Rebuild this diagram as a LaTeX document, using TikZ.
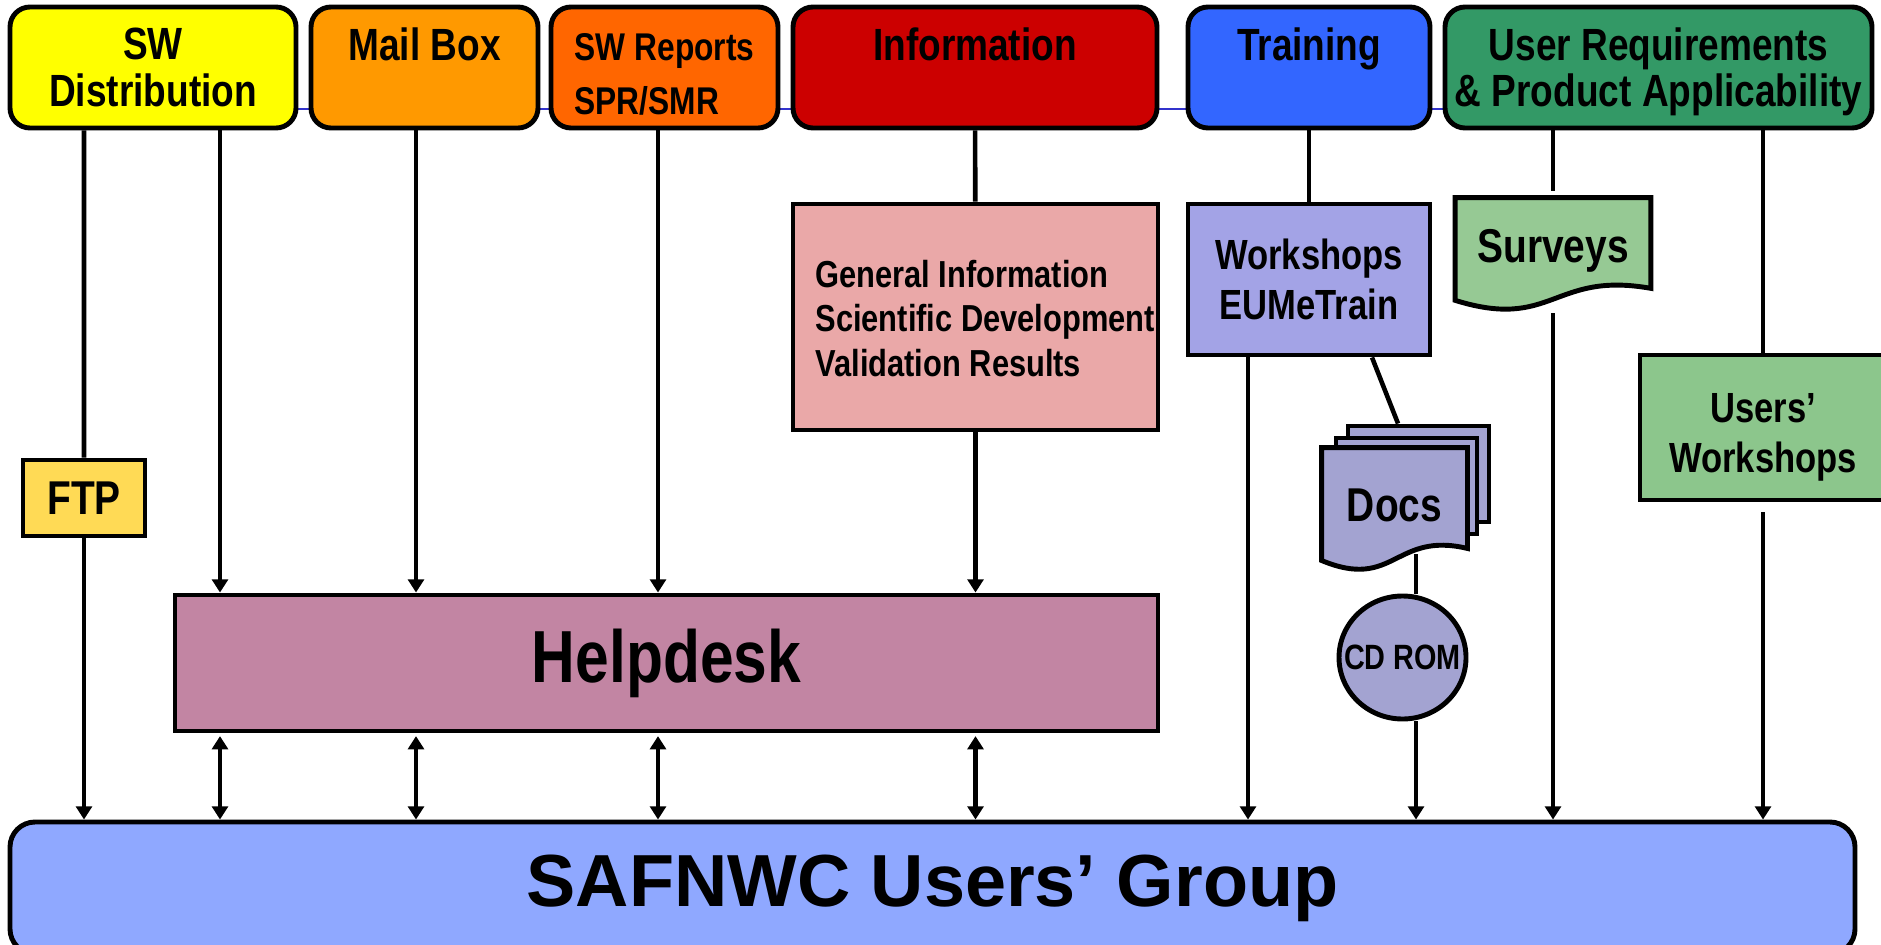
\documentclass[tikz,border=0pt]{standalone}
\usepackage{fontspec}
\setmainfont[FakeStretch=0.82]{Liberation Sans}
\newfontfamily\widefont{Liberation Sans}
\usetikzlibrary{arrows.meta,shapes.geometric,backgrounds,calc}

\definecolor{swyellow}{HTML}{FFFF00}
\definecolor{mailorange}{HTML}{FF9900}
\definecolor{reporange}{HTML}{FF6600}
\definecolor{infored}{HTML}{CC0000}
\definecolor{trainblue}{HTML}{3366FF}
\definecolor{reqgreen}{HTML}{339966}
\definecolor{genpink}{HTML}{EAA8A8}
\definecolor{wslilac}{HTML}{A3A3E6}
\definecolor{docslilac}{HTML}{A3A3D1}
\definecolor{survgreen}{HTML}{96C994}
\definecolor{uwsgreen}{HTML}{8CC68C}
\definecolor{ftpyellow}{HTML}{FFDA55}
\definecolor{helpmauve}{HTML}{C285A3}
\definecolor{ugblue}{HTML}{8FA8FF}
\definecolor{thinblue}{HTML}{3333CC}

\tikzset{
  tab/.style={draw, line width=2.8pt, rounded corners=0.4cm, minimum height=2.42cm,
    align=center, font=\bfseries\fontsize{25.7}{26.5}\selectfont},
  box/.style={draw, line width=2.8pt, align=center, font=\bfseries\fontsize{24}{28.4}\selectfont},
  page/.style={line width=2.8pt, minimum width=2.82cm, minimum height=1.92cm},
  link/.style={line width=2.6pt},
  arr/.style={link, -{Triangle[length=7.5pt,width=9pt]}},
  darr/.style={link, {Triangle[length=7.5pt,width=9pt]}-{Triangle[length=7.5pt,width=9pt]}},
}

% page with a wavy lower edge
\newcommand\docwave[2]{%
  \draw[#2] (#1.north west) -- (#1.north east) -- (#1.south east)
    .. controls ([yshift=0.35cm]$(#1.south west)!0.5!(#1.south east)$)
    and ([yshift=-0.85cm]$(#1.south west)!0.5!(#1.south east)$)
    .. ([yshift=-0.24cm]#1.south west) -- cycle;}

\begin{document}
\begin{tikzpicture}
  \useasboundingbox (0,0) rectangle (37.62,-18.88);

  \node[tab, fill=swyellow, minimum width=5.72cm] (swd) at (3.06,-1.35) {SW\\Distribution};
  \node[tab, fill=mailorange, minimum width=4.54cm] (mail) at (8.49,-1.35) {Mail Box\\\mbox{}};
  \node[tab, fill=reporange, minimum width=4.54cm, align=left, font=\bfseries\fontsize{22}{26}\selectfont]
    (rep) at (13.29,-1.35) {\rule{0pt}{23pt}SW Reports\\[5pt]SPR/SMR};
  \node[tab, fill=infored, minimum width=7.28cm] (info) at (19.50,-1.35) {Information\\\mbox{}};
  \node[tab, fill=trainblue, minimum width=4.84cm] (train) at (26.18,-1.35) {Training\\\mbox{}};
  \node[tab, fill=reqgreen, minimum width=8.54cm] (ureq) at (33.17,-1.35)
    {\rule{0pt}{23.6pt}User Requirements\\\& Product Applicability};

  \node[box, fill=genpink, minimum width=7.3cm, minimum height=4.52cm, inner xsep=0pt,
    font=\bfseries\fontsize{21.4}{25.5}\selectfont] (gen) at (19.51,-6.34)
    {\begin{tabular}{@{\hspace{11pt}}l@{}}\rule{0pt}{24.7pt}General Information\\Scientific Development\\Validation Results\end{tabular}};
  \node[box, fill=wslilac, minimum width=4.84cm, minimum height=3.02cm] (ws) at (26.18,-5.59) {Workshops\\EUMeTrain};
  \node[font=\bfseries\fontsize{27}{30}\selectfont, text height=27.5pt, minimum width=3.9cm, minimum height=1.8cm]
    (surv) at (31.06,-4.86) {Surveys};
  \node[box, fill=uwsgreen, minimum width=4.92cm, minimum height=2.9cm] (uws) at (35.26,-8.55)
    {\rule{0pt}{27.3pt}Users’\\Workshops};
  \node[box, fill=ftpyellow, minimum width=2.44cm, minimum height=1.52cm,
    font=\bfseries\fontsize{27}{30}\selectfont] (ftp) at (1.68,-9.96) {FTP};
  \node[page, font=\bfseries\fontsize{27}{30}\selectfont, text height=27.3pt] (docs) at (27.89,-9.96) {Docs};
  \node[ellipse, draw, line width=2.8pt, fill=docslilac, inner sep=0pt, minimum width=2.54cm,
    minimum height=2.46cm, font=\bfseries\fontsize{20}{22}\selectfont] (cd) at (28.05,-13.15) {\makebox[0pt]{CD ROM}};
  \node[box, fill=helpmauve, minimum width=19.66cm, minimum height=2.72cm,
    font=\bfseries\fontsize{42}{46}\selectfont] (help) at (13.33,-13.26) {Helpdesk};
  \node[draw, line width=2.8pt, fill=ugblue, rounded corners=0.5cm, minimum width=36.9cm, minimum height=2.64cm,
    font=\widefont\bfseries\fontsize{42}{46}\selectfont] (ug) at (18.65,-17.76) {SAFNWC Users’ Group};

  \begin{scope}[on background layer]
    \draw[line width=0.8pt, thinblue] ([yshift=-0.83cm]swd.east) -- ([yshift=-0.83cm]ureq.west);
    \docwave{surv}{line width=2.8pt, fill=survgreen}
    \node[page, draw, fill=docslilac] (docsb) at (28.37,-9.48) {};
    \node[page, draw, fill=docslilac] (docsm) at (28.13,-9.72) {};
    \docwave{docs}{line width=2.8pt, fill=docslilac}
  \end{scope}

  \draw[link] ([xshift=-1.38cm]swd.south) -- (ftp);
  \draw[arr] (ftp) -- (ftp |- ug.north);
  \foreach \src/\dx in {swd/1.34, mail/-0.17, rep/-0.13}
    \draw[arr] ([xshift=\dx cm]\src.south) -- ([xshift=\dx cm]\src.south |- help.north);
  \draw[link] (info) -- (gen);
  \draw[arr] (gen) -- (gen |- help.north);
  \foreach \src/\dx in {swd/1.34, mail/-0.17, rep/-0.13, gen/0}
    \draw[darr, shorten <=1.5pt] ([xshift=\dx cm]\src.south |- help.south) -- ([xshift=\dx cm]\src.south |- ug.north);

  \draw[link] (train) -- (ws);
  \draw[arr] ([xshift=-1.22cm]ws.south) -- ([xshift=-1.22cm]ws.south |- ug.north);
  \draw[link] ([xshift=1.26cm]ws.south) -- ([xshift=-0.41cm]docsb.north);
  \draw[link] ([xshift=0.43cm,yshift=-0.12cm]docs.south) -- ([xshift=0.43cm]docs.south |- cd.north);
  \draw[arr] ([xshift=0.27cm]cd.south) -- ([xshift=0.27cm]cd.south |- ug.north);

  \draw[link, shorten >=4pt] (surv.north |- ureq.south) -- (surv.north);
  \draw[arr] ([yshift=-0.5cm]surv.south) -- (surv.south |- ug.north);
  \draw[link] (uws.north |- ureq.south) -- (uws);
  \draw[arr] ([yshift=-0.2cm]uws.south) -- (uws |- ug.north);
\end{tikzpicture}
\end{document}
